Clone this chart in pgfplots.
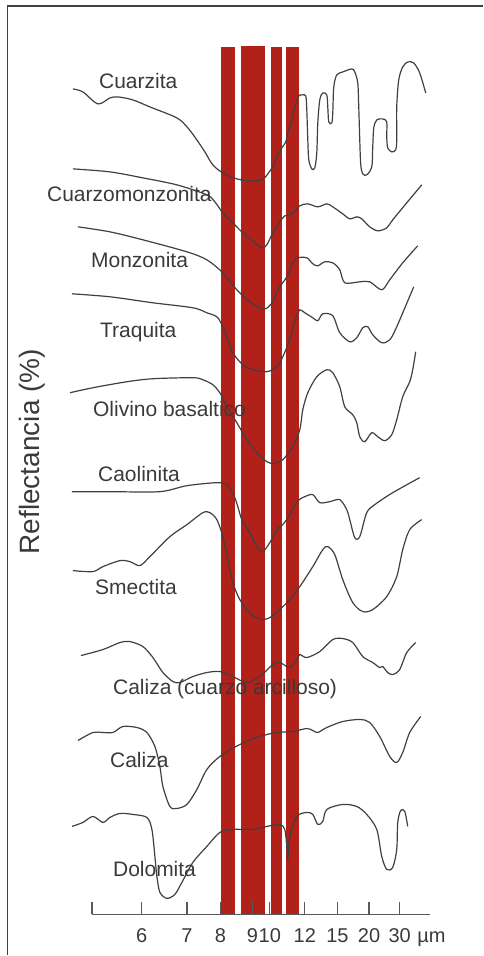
\documentclass[border=0pt]{standalone}
\usepackage{fontspec}
\setmainfont{Liberation Sans}
\usepackage{pgfplots}
\pgfplotsset{compat=1.18}
\definecolor{bandred}{HTML}{B2201A}
\definecolor{curve}{HTML}{404040}
\definecolor{txt}{HTML}{3A3A3A}
\begin{document}
\begin{tikzpicture}
\begin{axis}[
  x=1pt, y=1pt,
  xmin=92, xmax=430, ymin=-915, ymax=0,
  axis x line=bottom, axis y line=none,
  x axis line style={-, color=black!65, line width=1.3pt},
  xtick={92,141.7,187,220.7,252.7,270,305,337.7,369.3,400},
  xticklabels={,\hbox{6},\hbox{7},\hbox{8},\hbox{9},\hbox{10},\hbox{12},\hbox{15},\hbox{20},\hbox{30}},
  xtick align=inside,
  major tick length=12pt,
  xtick style={color=black!65, line width=1.3pt},
  xticklabel style={font=\fontsize{20}{24}\selectfont, text=txt, inner sep=0pt, anchor=base, yshift=-28pt},
  clip=false, axis on top,
  /pgf/number format/assume math mode=true,
]
% red bands
\addplot[fill=bandred, draw=none] coordinates {(220.7,-47) (235.3,-47) (235.3,-915) (220.7,-915)} -- cycle;
\addplot[fill=bandred, draw=none] coordinates {(240.7,-46) (265,-46) (265,-915) (240.7,-915)} -- cycle;
\addplot[fill=bandred, draw=none] coordinates {(271,-47) (281.7,-47) (281.7,-915) (271,-915)} -- cycle;
\addplot[fill=bandred, draw=none] coordinates {(286.5,-47) (299,-47) (299,-915) (286.5,-915)} -- cycle;

% Cuarzita
\addplot[curve, line width=1.2pt, smooth, tension=0.5] coordinates {
(73,-89) (83,-92) (98,-104) (110,-98) (118,-97) (133,-100) (150,-107) (177,-118) (188,-128) (197,-140) (205,-152) (213,-165) (223,-173) (237,-179) (250,-181) (262,-180) (268,-174) (274,-165) (278,-155) (282,-148) (286,-142) (288,-133) (292,-120) (295,-107) (299,-96) (303,-95) (306,-96) (307,-110) (308,-140) (309,-160) (312,-169) (315,-168) (317,-153) (318,-123) (320,-100) (323,-93) (327,-95) (328,-107) (329,-122) (332,-123) (333,-113) (334,-87) (337,-75) (343,-72) (352,-69) (355,-72) (358,-83) (359,-107) (360,-140) (361,-165) (363,-174) (367,-175) (372,-167) (373,-147) (374,-128) (377,-120) (383,-119) (387,-122) (387,-137) (388,-148) (392,-152) (396,-150) (397,-140) (397,-107) (399,-80) (403,-67) (408,-62) (414,-63) (420,-73) (426,-93)};
% Cuarzomonzonita
\addplot[curve, line width=1.2pt, smooth, tension=0.5] coordinates {
(73,-169) (110,-172) (143,-178) (177,-185) (207,-195) (215,-202) (223,-213) (233,-223) (243,-233) (253,-241) (262,-248) (267,-245) (273,-233) (280,-222) (285,-216) (292,-214) (300,-206) (308,-204) (318,-207) (327,-204) (333,-207) (343,-214) (350,-219) (357,-217) (362,-219) (370,-227) (378,-231) (387,-228) (393,-220) (407,-203) (422,-185)};
% Monzonita
\addplot[curve, line width=1.2pt, smooth, tension=0.5] coordinates {
(78,-227) (110,-232) (143,-240) (187,-252) (207,-260) (223,-273) (237,-290) (250,-302) (260,-308) (266,-309) (273,-302) (278,-290) (287,-277) (293,-263) (298,-258) (307,-258) (313,-264) (318,-266) (325,-262) (333,-263) (340,-270) (345,-283) (360,-282) (370,-282) (382,-290) (390,-280) (403,-263) (418,-246)};
% Traquita
\addplot[curve, line width=1.2pt, smooth, tension=0.5] coordinates {
(72,-294) (110,-297) (153,-303) (193,-308) (207,-313) (217,-317) (222,-325) (227,-337) (233,-353) (243,-365) (253,-370) (267,-372) (277,-367) (283,-357) (290,-340) (293,-328) (297,-316) (300,-310) (305,-313) (313,-318) (318,-321) (323,-314) (333,-316) (340,-333) (350,-342) (357,-338) (363,-328) (368,-327) (373,-335) (382,-343) (390,-340) (397,-327) (414,-287)};
% Olivino basaltico
\addplot[curve, line width=1.2pt, smooth, tension=0.5] coordinates {
(70,-393) (93,-388) (127,-382) (153,-379) (193,-378) (203,-380) (213,-385) (220,-393) (227,-407) (237,-423) (247,-440) (257,-453) (267,-462) (275,-464) (283,-460) (293,-447) (300,-430) (303,-410) (308,-393) (317,-377) (327,-370) (333,-373) (340,-387) (345,-407) (353,-415) (357,-423) (360,-437) (365,-442) (372,-433) (378,-437) (385,-441) (392,-435) (397,-420) (403,-397) (410,-382) (413,-370) (416,-352)};
% Caolinita
\addplot[curve, line width=1.2pt, smooth, tension=0.5] coordinates {
(72,-492) (110,-492) (160,-492) (187,-486) (217,-483) (227,-485) (233,-493) (238,-507) (242,-520) (250,-533) (257,-547) (263,-552) (270,-543) (277,-530) (283,-525) (290,-515) (297,-502) (305,-497) (313,-495) (320,-503) (330,-502) (340,-500) (347,-510) (350,-520) (355,-538) (360,-537) (367,-513) (375,-505) (393,-493) (420,-478)};
% Smectita
\addplot[curve, line width=1.2pt, smooth, tension=0.5] coordinates {
(73,-571) (93,-572) (103,-567) (120,-561) (130,-562) (140,-566) (150,-557) (170,-537) (187,-525) (203,-513) (210,-513) (217,-520) (223,-537) (228,-560) (233,-583) (240,-600) (250,-613) (260,-620) (270,-618) (280,-610) (290,-600) (300,-587) (313,-567) (323,-550) (328,-547) (335,-555) (343,-580) (353,-603) (363,-612) (373,-610) (387,-597) (397,-577) (403,-550) (410,-530) (422,-520)};
% Caliza (cuarzo arcilloso)
\addplot[curve, line width=1.2pt, smooth, tension=0.5] coordinates {
(81,-656) (103,-650) (120,-643) (130,-642) (143,-647) (153,-658) (163,-673) (173,-682) (180,-683) (193,-677) (207,-673) (220,-672) (233,-677) (247,-683) (260,-677) (273,-665) (280,-663) (290,-668) (297,-660) (300,-655) (307,-658) (320,-652) (333,-640) (343,-639) (353,-643) (363,-657) (373,-663) (380,-668) (383,-667) (388,-673) (393,-675) (400,-670) (407,-653) (416,-643)};
% Caliza
\addplot[curve, line width=1.2pt, smooth, tension=0.5] coordinates {
(78,-741) (93,-733) (103,-733) (113,-733) (123,-727) (137,-728) (147,-733) (155,-747) (160,-767) (163,-787) (170,-807) (177,-809) (187,-805) (197,-790) (207,-770) (220,-757) (240,-745) (260,-737) (277,-733) (293,-732) (307,-729) (313,-731) (318,-733) (327,-728) (343,-722) (360,-720) (370,-723) (380,-737) (390,-757) (397,-763) (403,-753) (410,-733) (421,-717)};
% Dolomita
\addplot[curve, line width=1.2pt, smooth, tension=0.5] coordinates {
(72,-827) (83,-823) (93,-817) (103,-823) (110,-818) (120,-814) (133,-815) (147,-818) (152,-830) (155,-857) (157,-877) (160,-893) (167,-899) (175,-895) (182,-883) (193,-863) (207,-847) (220,-833) (233,-830) (253,-830) (267,-827) (280,-825) (285,-830) (287,-847) (288,-860) (290,-837) (297,-817) (307,-813) (313,-815) (318,-825) (323,-822) (327,-810) (343,-805) (357,-807) (367,-815) (377,-830) (382,-857) (387,-870) (393,-868) (397,-850) (398,-823) (401,-811) (405,-812) (408,-827)};

% labels
\begin{scope}[every node/.style={font=\fontsize{21}{25}\selectfont, text=txt, inner sep=0pt, anchor=base west}]
\node at (axis cs:99,-89) {Cuarzita};
\node at (axis cs:47,-202) {Cuarzomonzonita};
\node at (axis cs:91,-268) {Monzonita};
\node at (axis cs:100,-338) {Traquita};
\node at (axis cs:93,-417) {Olivino basaltico};
\node at (axis cs:98,-482) {Caolinita};
\node at (axis cs:95,-595) {Smectita};
\node at (axis cs:113,-695) {Caliza (cuarzo arcilloso)};
\node at (axis cs:110,-768) {Caliza};
\node at (axis cs:113,-877) {Dolomita};
\end{scope}
\node[font=\fontsize{20}{24}\selectfont, text=txt, inner sep=0pt, anchor=base] at (axis cs:431.7,-943) {µm};
\node[font=\fontsize{28}{32}\selectfont, text=txt, inner sep=0pt, rotate=90, anchor=center] at (axis cs:32,-452) {Reflectancia (\%)};
% frame
\draw[line width=1.3pt, color=black!75] (axis cs:7.5,-956) -- (axis cs:7.5,-6) -- (axis cs:483,-6);
\path (axis cs:0,0) rectangle (axis cs:483,-956);
\end{axis}
\end{tikzpicture}
\end{document}
